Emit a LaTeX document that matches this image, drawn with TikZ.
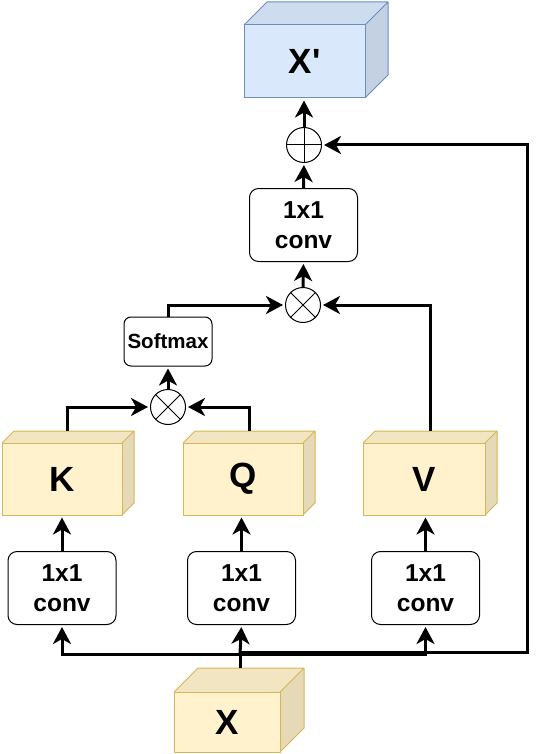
\documentclass[tikz,border=0pt]{standalone}
\usepackage{fontspec}
\setmainfont{Liberation Sans}[Ligatures=TeXOff]
\usetikzlibrary{arrows.meta}
\definecolor{yfill}{HTML}{FFF2CC}
\definecolor{ytop}{HTML}{F2E5C1}
\definecolor{yside}{HTML}{E5D9B7}
\definecolor{ystroke}{HTML}{D6B656}
\definecolor{bfill}{HTML}{DAE8FC}
\definecolor{btop}{HTML}{CEDCEF}
\definecolor{bside}{HTML}{C4D1E3}
\definecolor{bstroke}{HTML}{6C8EBF}
\tikzset{
  conn/.style={line width=3pt, shorten >=2pt, -{Stealth[length=17pt,width=18pt,inset=5pt]}},
  wire/.style={line width=3pt},
  convbox/.style={draw, line width=1pt, rounded corners=9pt, minimum width=108pt, minimum height=73pt, align=center, font=\bfseries\fontsize{24.5}{30}\selectfont, inner sep=0pt},
  smbox/.style={draw, line width=1pt, rounded corners=7pt, minimum width=88pt, minimum height=49pt, font=\bfseries\fontsize{20.5}{24}\selectfont, inner sep=0pt},
  opcircle/.style={draw, line width=1pt, circle, minimum size=35pt, inner sep=0pt},
  cubefront/.style={draw, line width=1pt, inner sep=0pt},
  cubelabel/.style={font=\bfseries\fontsize{35}{40}\selectfont},
}
% #1 name, #2 x1, #3 y1, #4 x2, #5 y2, #6 depth, #7 fill, #8 top, #9 side, stroke via \cubestroke
\newcommand{\mycube}[9]{%
  \fill[#8] (#2,#3) -- (#2+#6,#3-#6) -- (#4+#6,#3-#6) -- (#4,#3) -- cycle;
  \fill[#9] (#4,#3) -- (#4+#6,#3-#6) -- (#4+#6,#5-#6) -- (#4,#5) -- cycle;
  \draw[\cubestroke, line width=1pt, line join=round] (#2,#3) -- (#2+#6,#3-#6) -- (#4+#6,#3-#6) -- (#4+#6,#5-#6) -- (#4,#5) (#4,#3) -- (#4+#6,#3-#6);
  \node[cubefront, draw=\cubestroke, fill=#7, minimum width=#4pt-#2pt, minimum height=#5pt-#3pt] (#1) at ({(#2+#4)/2},{(#3+#5)/2}) {};
}
\begin{document}
\begin{tikzpicture}[x=1pt,y=-1pt]
\useasboundingbox (0,0) rectangle (540,754);
% cubes
\def\cubestroke{bstroke}
\mycube{xp}{244}{25}{365}{98}{23}{bfill}{btop}{bside}
\node[cubelabel] (lxp) at (xp.center) {X'};
\def\cubestroke{ystroke}
\mycube{k}{2}{443}{122}{515}{12}{yfill}{ytop}{yside}
\node[cubelabel] (lk) at (k.center) {K};
\mycube{q}{183}{443}{303}{515}{12}{yfill}{ytop}{yside}
\node[cubelabel] (lq) at (q.center) {Q};
\mycube{v}{363}{443}{485}{515}{12}{yfill}{ytop}{yside}
\node[cubelabel] (lv) at (v.center) {V};
\mycube{x}{174}{692}{280}{752}{24}{yfill}{ytop}{yside}
\node[cubelabel] (lx) at (x.center) {X};
% conv boxes
\node[convbox] (ck) at (62,588) {1x1\\conv};
\node[convbox] (cq) at (241.5,588) {1x1\\conv};
\node[convbox] (cv) at (425.5,588) {1x1\\conv};
\node[convbox] (ct) at (303.5,225) {1x1\\conv};
\node[smbox] (sm) at (168,341.5) {Softmax};
% operators
\node[opcircle] (m1) at (168,407) {};
\node[opcircle] (m2) at (303,305) {};
\node[opcircle] (pl) at (304,145) {};
\draw[line width=1pt] (pl.north) -- (pl.south) (pl.west) -- (pl.east);
\foreach \c in {m1,m2}{
  \draw[line width=1pt] (\c.north west) -- (\c.south east) (\c.north east) -- (\c.south west);
}
% coordinates
\coordinate (xtop) at (240,668);
\coordinate (jb) at (240,654);
\coordinate (jr) at (527,652);
\coordinate (jrt) at (527,145);
\coordinate (jl) at (240,652);
% bottom branches
\draw[wire] (xtop) -- (jb);
\draw[conn] (jb) -| (ck.south);
\draw[conn] (jb) -- (cq.south);
\draw[conn] (jb) -| (cv.south);
\draw[conn] (jl) -- (jr) -- (jrt) -- (pl.east);
% conv to cubes
\draw[conn] (ck.north) -- (ck.north |- k.south);
\draw[conn] (cq.north) -- (cq.north |- q.south);
\draw[conn] (cv.north) -- (cv.north |- v.south);
% K, Q to m1
\draw[conn] ([xshift=5pt]k.north |- 0,431) |- (m1.west);
\draw[conn] ([xshift=6pt]q.north |- 0,431) |- (m1.east);
\draw[conn] (m1.north) -- (sm.south);
\draw[conn] (sm.north) |- (m2.west);
\draw[conn] ([xshift=6pt]v.north |- 0,431) |- (m2.east);
\draw[conn] (m2.north) -- (ct.south);
\draw[conn] (ct.north) -- (pl.south);
\draw[conn] (pl.north) -- (pl.north |- xp.south);
\end{tikzpicture}
\end{document}
